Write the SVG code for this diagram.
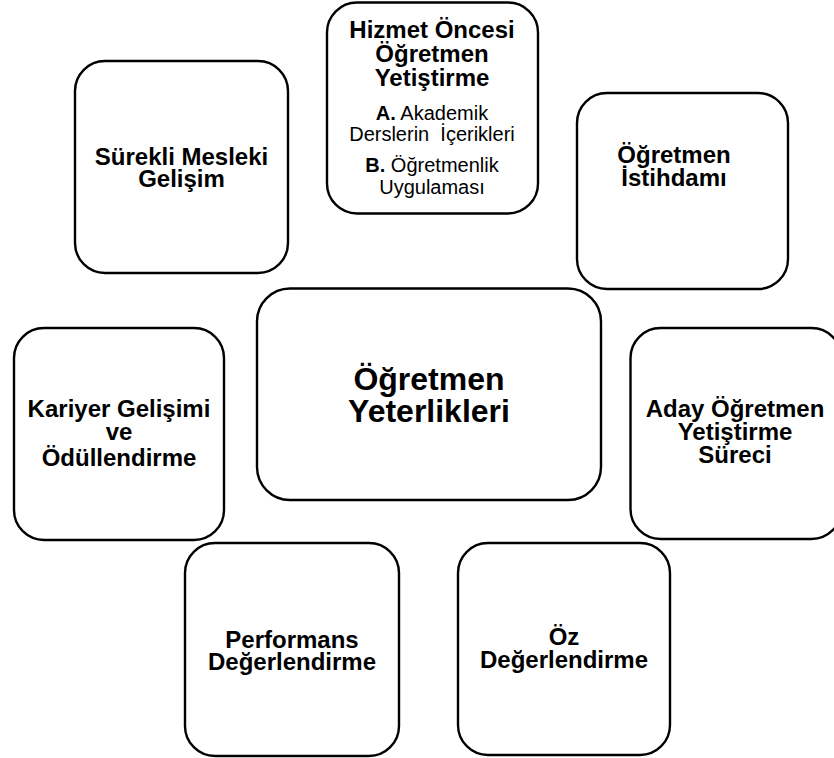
<svg xmlns="http://www.w3.org/2000/svg" width="834" height="758" viewBox="0 0 834 758">
  <style>
    .box { fill: #ffffff; stroke: #000000; stroke-width: 2.4; }
    .lbl { font-family: "Liberation Sans", Arial, sans-serif; font-weight: bold; font-size: 24px; fill: #000000; text-anchor: middle; }
    .big { font-size: 32px; }
    .sub { font-family: "Liberation Sans", Arial, sans-serif; font-weight: normal; font-size: 20px; fill: #000000; text-anchor: middle; }
    .b { font-weight: bold; }
  </style>
  <rect width="834" height="758" fill="#ffffff"/>

  <!-- no connectors between the boxes; group kept for structure -->
  <g id="connectors"></g>

  <g id="hizmet-oncesi">
    <rect class="box" x="327" y="2.5" width="211" height="211" rx="30" ry="30"/>
    <text class="lbl" x="432" y="38">Hizmet Öncesi</text>
    <text class="lbl" x="432" y="62">Öğretmen</text>
    <text class="lbl" x="432" y="86">Yetiştirme</text>
    <text class="sub" x="432" y="120"><tspan class="b">A.</tspan> Akademik</text>
    <text class="sub" x="432" y="141" xml:space="preserve">Derslerin  İçerikleri</text>
    <text class="sub" x="432" y="172"><tspan class="b">B.</tspan> Öğretmenlik</text>
    <text class="sub" x="432" y="194">Uygulaması</text>
  </g>

  <g id="surekli-mesleki-gelisim">
    <rect class="box" x="75" y="61" width="213" height="212" rx="30" ry="30"/>
    <text class="lbl" x="181.5" y="165">Sürekli Mesleki</text>
    <text class="lbl" x="181.5" y="187">Gelişim</text>
  </g>

  <g id="ogretmen-istihdami">
    <rect class="box" x="577" y="93" width="211" height="196" rx="30" ry="30"/>
    <text class="lbl" x="674" y="163">Öğretmen</text>
    <text class="lbl" x="674" y="186">İstihdamı</text>
  </g>

  <g id="ogretmen-yeterlikleri">
    <rect class="box" x="257" y="288.5" width="344" height="211.5" rx="33" ry="33"/>
    <text class="lbl big" x="429" y="390">Öğretmen</text>
    <text class="lbl big" x="429" y="422">Yeterlikleri</text>
  </g>

  <g id="kariyer-gelisimi">
    <rect class="box" x="14" y="328" width="210" height="212" rx="30" ry="30"/>
    <text class="lbl" x="119" y="417">Kariyer Gelişimi</text>
    <text class="lbl" x="119" y="440">ve</text>
    <text class="lbl" x="119" y="466">Ödüllendirme</text>
  </g>

  <g id="aday-ogretmen">
    <rect class="box" x="630.5" y="328" width="211" height="211" rx="30" ry="30"/>
    <text class="lbl" x="735" y="417">Aday Öğretmen</text>
    <text class="lbl" x="735" y="440">Yetiştirme</text>
    <text class="lbl" x="735" y="463">Süreci</text>
  </g>

  <g id="performans-degerlendirme">
    <rect class="box" x="185" y="543" width="214" height="213" rx="30" ry="30"/>
    <text class="lbl" x="292" y="648">Performans</text>
    <text class="lbl" x="292" y="670">Değerlendirme</text>
  </g>

  <g id="oz-degerlendirme">
    <rect class="box" x="458" y="543" width="212" height="212" rx="30" ry="30"/>
    <text class="lbl" x="564" y="645">Öz</text>
    <text class="lbl" x="564" y="668">Değerlendirme</text>
  </g>
</svg>
